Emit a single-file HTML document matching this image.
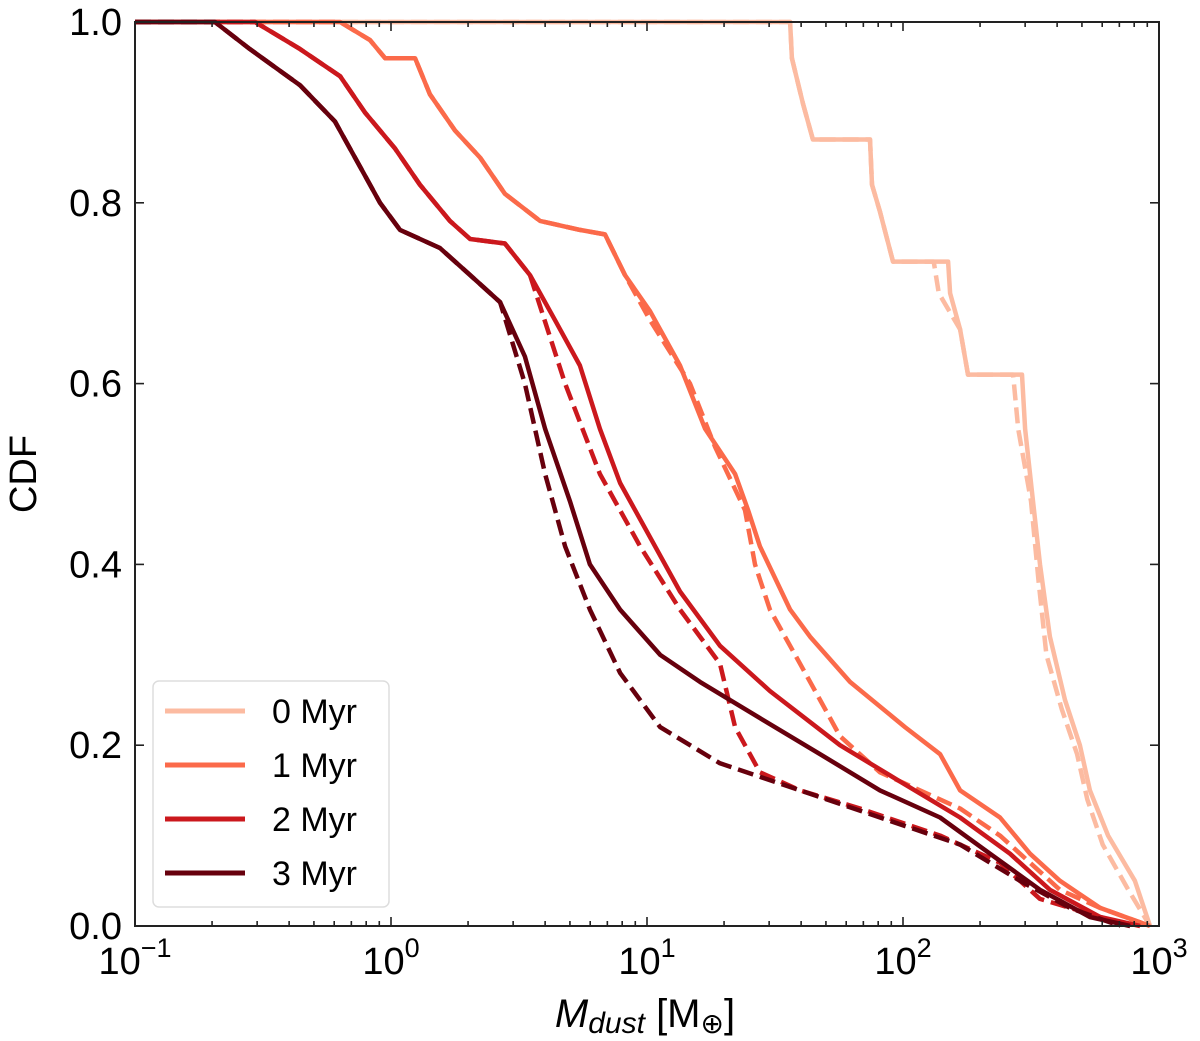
<!DOCTYPE html>
<html><head><meta charset="utf-8"><style>
body{margin:0;background:#fff}
svg{display:block;font-family:"Liberation Sans","DejaVu Sans",sans-serif}
</style></head><body>
<svg id="chart" width="1200" height="1041" viewBox="0 0 1200 1041" xmlns="http://www.w3.org/2000/svg">
<g id="series"></g>
<rect x="135" y="22" width="1024" height="904" fill="none" stroke="#222" stroke-width="2"/>
<g id="ticks" stroke="#222" stroke-width="1.6"></g>
<g id="labels" font-size="38" fill="#000"></g>
<text x="36" y="474" font-size="38" text-anchor="middle" transform="rotate(-90 36 474)">CDF</text>
<text x="645" y="1027" font-size="40" text-anchor="middle"><tspan font-style="italic">M</tspan><tspan font-style="italic" font-size="30" dy="6">dust</tspan><tspan dy="-6"> [M</tspan><tspan font-size="28" dy="6">⊕</tspan><tspan dy="-6">]</tspan></text>
<g>
<rect x="153" y="681" width="236" height="226" rx="6" fill="#fff" fill-opacity="0.85" stroke="#ddd" stroke-width="1.5"/>
<g id="legend-items"></g>
</g>
</svg>
<script>
const xTickExps=[-1,0,1,2,3];
const yTicks=[0,0.2,0.4,0.6,0.8,1.0];
const yTickLabels=["0.0","0.2","0.4","0.6","0.8","1.0"];
const seriesNames=["0 Myr","1 Myr","2 Myr","3 Myr"];
const colors=["#fcbba1","#fb6a4a","#cb181d","#67000d"];
// log10(M_dust) and CDF values
const s0x=[-1,1.559,1.566,1.609,1.648,1.871,1.879,1.910,1.961,2.176,2.184,2.223,2.254,2.465,2.477,2.504,2.535,2.574,2.633,2.691,2.73,2.801,2.906,2.965];
const s0y=[1,1,0.96,0.91,0.87,0.87,0.82,0.79,0.735,0.735,0.70,0.66,0.61,0.61,0.55,0.48,0.40,0.32,0.25,0.20,0.15,0.10,0.05,0];
const d0x=[-1,1.559,1.566,1.609,1.648,1.871,1.879,1.910,1.961,2.12,2.14,2.223,2.254,2.43,2.45,2.50,2.53,2.56,2.62,2.68,2.72,2.78,2.88,2.965];
const d0y=[1,1,0.96,0.91,0.87,0.87,0.82,0.79,0.735,0.735,0.70,0.66,0.61,0.61,0.55,0.47,0.38,0.30,0.24,0.19,0.14,0.09,0.04,0];
const s1x=[-1,-0.199,-0.082,-0.023,0.094,0.152,0.25,0.348,0.445,0.582,0.738,0.836,0.914,1.012,1.129,1.227,1.344,1.395,1.441,1.559,1.637,1.793,2.008,2.145,2.223,2.379,2.496,2.613,2.77,2.965];
const s1y=[1,1,0.98,0.96,0.96,0.92,0.88,0.85,0.81,0.78,0.77,0.765,0.72,0.68,0.62,0.55,0.50,0.46,0.42,0.35,0.32,0.27,0.22,0.19,0.15,0.12,0.08,0.05,0.02,0];
const d1x=[-1,-0.199,-0.082,-0.023,0.094,0.152,0.25,0.348,0.445,0.582,0.738,0.836,0.914,1.012,1.168,1.266,1.383,1.422,1.48,1.598,1.676,1.754,1.91,2.223,2.379,2.496,2.613,2.77,2.965];
const d1y=[1,1,0.98,0.96,0.96,0.92,0.88,0.85,0.81,0.78,0.77,0.765,0.72,0.67,0.60,0.53,0.46,0.40,0.35,0.29,0.25,0.21,0.17,0.13,0.10,0.07,0.04,0.02,0];
const s2x=[-1,-0.531,-0.355,-0.199,-0.102,0.016,0.113,0.23,0.309,0.445,0.543,0.641,0.738,0.816,0.895,1.012,1.129,1.285,1.48,1.754,1.988,2.223,2.418,2.574,2.77,2.926];
const s2y=[1,1,0.97,0.94,0.90,0.86,0.82,0.78,0.76,0.755,0.72,0.67,0.62,0.55,0.49,0.43,0.37,0.31,0.26,0.20,0.16,0.12,0.08,0.04,0.01,0];
const d2x=[-1,-0.531,-0.355,-0.199,-0.102,0.016,0.113,0.23,0.309,0.445,0.543,0.68,0.816,0.973,1.129,1.285,1.344,1.441,1.598,1.832,2.145,2.379,2.535,2.887];
const d2y=[1,1,0.97,0.94,0.90,0.86,0.82,0.78,0.76,0.755,0.72,0.60,0.50,0.42,0.35,0.29,0.22,0.17,0.15,0.13,0.10,0.07,0.03,0];
const s3x=[-1,-0.688,-0.551,-0.355,-0.219,-0.121,-0.043,0.035,0.191,0.309,0.426,0.523,0.602,0.699,0.777,0.895,1.051,1.207,1.441,1.676,1.91,2.145,2.34,2.535,2.73,2.887];
const s3y=[1,1,0.97,0.93,0.89,0.84,0.80,0.77,0.75,0.72,0.69,0.63,0.55,0.47,0.40,0.35,0.30,0.27,0.23,0.19,0.15,0.12,0.08,0.04,0.01,0];
const d3x=[-1,-0.688,-0.551,-0.355,-0.219,-0.121,-0.043,0.035,0.191,0.309,0.426,0.523,0.602,0.68,0.777,0.895,1.051,1.285,1.598,1.91,2.223,2.457,2.652,2.848];
const d3y=[1,1,0.97,0.93,0.89,0.84,0.80,0.77,0.75,0.72,0.69,0.60,0.50,0.42,0.35,0.28,0.22,0.18,0.15,0.12,0.09,0.05,0.02,0];

const NS="http://www.w3.org/2000/svg";
const X0=135,X1=1159,Y0=926,Y1=22;
const xs=l=>X0+(l+1)/4*(X1-X0);
const ys=v=>Y0-v*(Y0-Y1);
function mk(t,a,p){const e=document.createElementNS(NS,t);for(const k in a)e.setAttribute(k,a[k]);p.appendChild(e);return e;}
const sg=document.getElementById('series');
const sets=[[s0x,s0y,d0x,d0y],[s1x,s1y,d1x,d1y],[s2x,s2y,d2x,d2y],[s3x,s3y,d3x,d3y]];
sets.forEach((s,i)=>{
  [[s[2],s[3],true],[s[0],s[1],false]].forEach(([lx,ly,dash])=>{
    const pts=lx.map((l,j)=>xs(l).toFixed(1)+','+ys(ly[j]).toFixed(1)).join(' ');
    const p=mk('polyline',{points:pts,fill:'none',stroke:colors[i],'stroke-width':4.5,'stroke-linejoin':'round'},sg);
    if(dash)p.setAttribute('stroke-dasharray','16 7');
    
    
  });
});
const tg=document.getElementById('ticks'),lg=document.getElementById('labels');
xTickExps.forEach((e,i)=>{
  const x=xs(e);
  mk('line',{x1:x,y1:Y0,x2:x,y2:Y0-9},tg);mk('line',{x1:x,y1:Y1,x2:x,y2:Y1+9},tg);
  if(e<3)for(let m=2;m<10;m++){const xm=xs(e+Math.log10(m));mk('line',{x1:xm,y1:Y0,x2:xm,y2:Y0-5},tg);mk('line',{x1:xm,y1:Y1,x2:xm,y2:Y1+5},tg);}
  const t=mk('text',{x:x,y:974,'text-anchor':'middle'},lg);
  
  
  const b=mk('tspan',{},t);b.textContent='10';
  const sup=mk('tspan',{'font-size':27,dy:-17},t);sup.textContent=(e<0?'\u2212':'')+Math.abs(e);
});
yTicks.forEach((v,i)=>{
  const y=ys(v);
  mk('line',{x1:X0,y1:y,x2:X0+9,y2:y},tg);mk('line',{x1:X1,y1:y,x2:X1-9,y2:y},tg);
  const t=mk('text',{x:122,y:y+13,'text-anchor':'end'},lg);
  
  
  t.textContent=yTickLabels[i];
});
const li=document.getElementById('legend-items');
seriesNames.forEach((n,i)=>{
  const y=711+i*54;
  const l=mk('line',{x1:165,y1:y,x2:245,y2:y,stroke:colors[i],'stroke-width':5},li);
  
  
  const t=mk('text',{x:272,y:y+12,'font-size':34},li);
  
  
  t.textContent=n;
});
</script>
</body></html>
